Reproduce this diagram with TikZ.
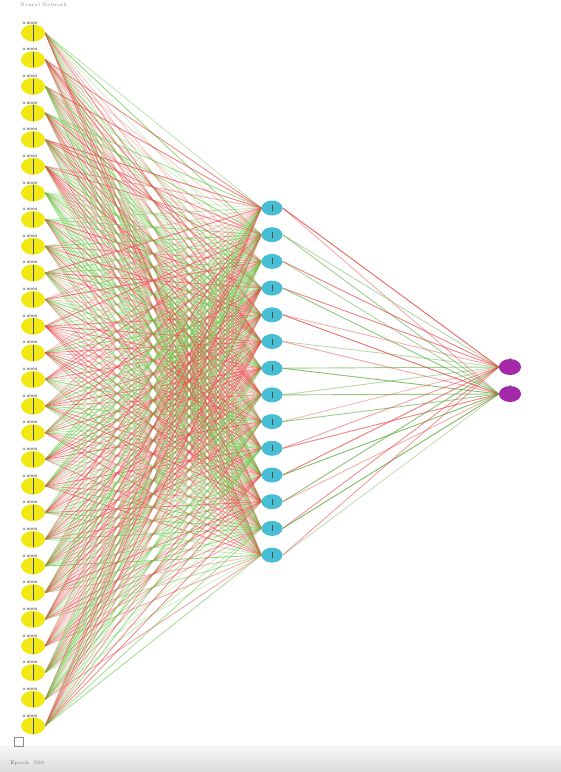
\documentclass[tikz,border=0pt]{standalone}
\usetikzlibrary{backgrounds,shapes.geometric}
\definecolor{nnred}{RGB}{232,70,70}
\definecolor{nngreen}{RGB}{105,200,70}
\definecolor{inyel}{RGB}{242,232,20}
\definecolor{hidcyan}{RGB}{72,190,212}
\definecolor{outmag}{RGB}{165,40,170}
\tikzset{
  inputnode/.style={ellipse,fill=inyel,minimum width=24pt,minimum height=17pt,inner sep=0pt},
  hidnode/.style={ellipse,fill=hidcyan,minimum width=21pt,minimum height=15pt,inner sep=0pt},
  outnode/.style={ellipse,fill=outmag,minimum width=22pt,minimum height=16pt,inner sep=0pt},
  lab/.style={font=\fontsize{3.5}{4}\selectfont\bfseries,text=black!80,inner sep=0pt},
  wire/.style={line width=0.9pt}
}
\begin{document}
\begin{tikzpicture}[x=1pt,y=-1pt]
\useasboundingbox (0,0) rectangle (561,772);
\node[lab,font=\fontsize{5}{6}\selectfont,text=black!45,anchor=west] (title) at (20,5) {Neural Network};
\node[lab,font=\fontsize{5}{6}\selectfont,text=black!55,anchor=west] (status) at (10,763) {Epoch: 500};
\node[draw=black!45,line width=0.4pt,minimum width=9pt,minimum height=9pt,inner sep=0pt] (box) at (19,742) {};
% input nodes
\foreach \i in {0,...,26} {
  \pgfmathsetmacro\yy{33+\i*26.65}
  \node[inputnode] (in\i) at (33,\yy) {};
  \draw[black!70,line width=0.5pt] ([yshift=-1pt]in\i.north) -- ([yshift=1pt]in\i.south);
  \node[lab] (lab\i) at (30,\yy-10) {0.0000};
}
% hidden nodes
\foreach \j in {0,...,13} {
  \pgfmathsetmacro\yy{208+\j*26.7}
  \node[hidnode] (hid\j) at (272,\yy) {};
  \draw[black!70,line width=0.5pt] ([yshift=-3pt]hid\j.center) -- ([yshift=3pt]hid\j.center);
}
% output nodes
\node[outnode] (out0) at (510,367) {};
\node[outnode] (out1) at (510,394) {};
\draw[black!60,line width=0.5pt] ([yshift=1pt]out0.north) -- ([yshift=-3pt]out0.north);
\draw[black!60,line width=0.5pt] ([yshift=1pt]out1.north) -- ([yshift=-3pt]out1.north);
\pgfmathsetseed{17}
\begin{pgfonlayer}{background}
\fill[white] (0,0) rectangle (561,745);
\shade[top color=black!3,bottom color=black!14] (0,745) rectangle (561,772);
\foreach \i in {0,...,26} {
  \foreach \j in {0,...,13} {
    \pgfmathsetmacro\r{rnd}
    \pgfmathsetmacro\o{0.25+0.45*rnd}
    \ifdim\r pt<0.55pt
      \draw[wire,nnred,opacity=\o] (in\i.east) -- (hid\j.west);
    \else
      \draw[wire,nngreen,opacity=\o] (in\i.east) -- (hid\j.west);
    \fi
  }
}
\foreach \j in {0,...,13} {
  \foreach \k in {0,1} {
    \pgfmathsetmacro\r{rnd}
    \pgfmathsetmacro\o{0.35+0.5*rnd}
    \ifdim\r pt<0.4pt
      \draw[wire,nnred,opacity=\o] (hid\j.east) -- (out\k.west);
    \else
      \draw[wire,nngreen!85!black,opacity=\o] (hid\j.east) -- (out\k.west);
    \fi
  }
}
\end{pgfonlayer}
\end{tikzpicture}
\end{document}
